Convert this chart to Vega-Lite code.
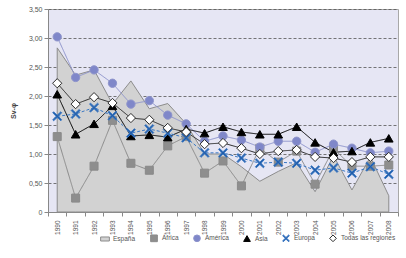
{
  "$schema": "https://vega.github.io/schema/vega-lite/v6.json",
  "width": 350,
  "height": 203,
  "autosize": {"type": "none"},
  "padding": {"left": 48, "top": 9, "right": 8, "bottom": 46},
  "background": "white",
  "config": {
    "font": "Liberation Sans",
    "view": {"fill": "#e6e6f4", "stroke": "#a8a8a8"},
    "axis": {"labelColor": "#555555", "labelFontSize": 7, "domainColor": "#888888", "tickColor": "#888888", "titleColor": "#444444"},
    "legend": {
      "orient": "none", "legendX": 53, "legendY": 225, "direction": "horizontal",
      "title": null, "labelFontSize": 6.5, "labelColor": "#555555", "symbolSize": 45,
      "columnPadding": 12, "symbolStrokeWidth": 1, "labelOffset": 4
    }
  },
  "data": {"values": [
    {"year": "1990", "España": 2.83, "África": 1.30, "América": 3.02, "Asia": 2.03, "Europa": 1.65, "Todas las regiones": 2.22},
    {"year": "1991", "España": 2.36, "África": 0.24, "América": 2.32, "Asia": 1.34, "Europa": 1.69, "Todas las regiones": 1.86},
    {"year": "1992", "España": 2.45, "África": 0.79, "América": 2.45, "Asia": 1.52, "Europa": 1.80, "Todas las regiones": 1.98},
    {"year": "1993", "España": 1.86, "África": 1.58, "América": 2.22, "Asia": 1.83, "Europa": 1.66, "Todas las regiones": 1.88},
    {"year": "1994", "España": 2.26, "África": 0.84, "América": 1.86, "Asia": 1.31, "Europa": 1.36, "Todas las regiones": 1.62},
    {"year": "1995", "España": 1.78, "África": 0.72, "América": 1.92, "Asia": 1.33, "Europa": 1.43, "Todas las regiones": 1.59},
    {"year": "1996", "España": 1.87, "África": 1.14, "América": 1.67, "Asia": 1.29, "Europa": 1.36, "Todas las regiones": 1.45},
    {"year": "1997", "España": 1.52, "África": 1.30, "América": 1.52, "Asia": 1.43, "Europa": 1.28, "Todas las regiones": 1.38},
    {"year": "1998", "España": 1.00, "África": 0.67, "América": 1.22, "Asia": 1.36, "Europa": 1.02, "Todas las regiones": 1.17},
    {"year": "1999", "España": 1.00, "África": 0.88, "América": 1.31, "Asia": 1.47, "Europa": 1.02, "Todas las regiones": 1.19},
    {"year": "2000", "España": 0.78, "África": 0.45, "América": 1.24, "Asia": 1.38, "Europa": 0.93, "Todas las regiones": 1.10},
    {"year": "2001", "España": 0.53, "África": 1.10, "América": 1.12, "Asia": 1.34, "Europa": 0.84, "Todas las regiones": 1.00},
    {"year": "2002", "España": 0.70, "África": 0.86, "América": 1.22, "Asia": 1.34, "Europa": 0.86, "Todas las regiones": 1.05},
    {"year": "2003", "España": 0.85, "África": 1.05, "América": 1.22, "Asia": 1.47, "Europa": 0.84, "Todas las regiones": 1.07},
    {"year": "2004", "España": 0.35, "África": 0.48, "América": 1.03, "Asia": 1.20, "Europa": 0.72, "Todas las regiones": 0.95},
    {"year": "2005", "España": 0.97, "África": 1.09, "América": 1.17, "Asia": 1.03, "Europa": 0.76, "Todas las regiones": 0.93},
    {"year": "2006", "España": 0.38, "África": 0.79, "América": 1.10, "Asia": 1.05, "Europa": 0.67, "Todas las regiones": 0.86},
    {"year": "2007", "España": 0.95, "África": 0.79, "América": 1.02, "Asia": 1.20, "Europa": 0.78, "Todas las regiones": 0.95},
    {"year": "2008", "España": 0.28, "África": 0.81, "América": 1.05, "Asia": 1.27, "Europa": 0.65, "Todas las regiones": 0.95}
  ]},
  "transform": [
    {"fold": ["España", "África", "América", "Asia", "Europa", "Todas las regiones"], "as": ["series", "value"]}
  ],
  "encoding": {
    "x": {
      "field": "year", "type": "ordinal", "bandPosition": 0.5,
      "scale": {"type": "band", "paddingInner": 0, "paddingOuter": 0},
      "axis": {"title": null, "labelAngle": -90, "tickBand": "extent", "labelPadding": 4, "tickSize": 4, "labelFontSize": 6.5, "grid": false}
    },
    "y": {
      "field": "value", "type": "quantitative",
      "scale": {"domain": [0, 3.5], "nice": false},
      "axis": {
        "title": "Sv-φ", "titleFontSize": 7, "titleFontWeight": "bold", "titlePadding": 12,
        "values": [0, 0.5, 1, 1.5, 2, 2.5, 3, 3.5],
        "labelExpr": "datum.value == 0 ? '0' : replace(format(datum.value, '.2f'), '.', ',')",
        "grid": true, "gridColor": "#555555", "gridDash": [3, 2], "gridWidth": 0.8, "tickSize": 4
      }
    }
  },
  "layer": [
    {
      "transform": [{"filter": "datum.series === 'España'"}],
      "mark": {"type": "area", "stroke": "#8c8c8c", "strokeWidth": 1},
      "encoding": {
        "fill": {"field": "series", "type": "nominal",
          "scale": {"domain": ["España", "África", "América", "Asia", "Europa", "Todas las regiones"],
                    "range": ["#d2d2d2", "#8e8e8e", "#7f87c9", "#000000", "#1f5aa6", "#ffffff"]}}
      }
    },
    {
      "transform": [{"filter": "datum.series !== 'España'"}],
      "mark": {"type": "line"},
      "encoding": {
        "detail": {"field": "series"},
        "stroke": {"field": "series", "type": "nominal",
          "scale": {"domain": ["España", "África", "América", "Asia", "Europa", "Todas las regiones"],
                    "range": ["#8c8c8c", "#8a8a8a", "#8e94cc", "#000000", "#3a78c4", "#2a2a2a"]}},
        "strokeWidth": {"field": "series", "type": "nominal", "legend": null,
          "scale": {"domain": ["África", "América", "Asia", "Europa", "Todas las regiones"], "range": [1, 1, 1.6, 1.2, 1.6]}},
        "strokeDash": {"field": "series", "type": "nominal", "legend": null,
          "scale": {"domain": ["África", "América", "Asia", "Europa", "Todas las regiones"], "range": [[1, 0], [1, 0], [1, 0], [3, 2], [1, 0]]}}
      }
    },
    {
      "transform": [{"filter": "datum.series !== 'España'"}],
      "mark": {"type": "point", "filled": true, "strokeWidth": 1, "opacity": 1},
      "encoding": {
        "fill": {"field": "series", "type": "nominal"},
        "stroke": {"field": "series", "type": "nominal"},
        "shape": {"field": "series", "type": "nominal",
          "scale": {"domain": ["España", "África", "América", "Asia", "Europa", "Todas las regiones"],
                    "range": ["M-1.3,-0.6H1.3V0.6H-1.3Z", "square", "circle", "triangle-up",
                              "M-0.8,-1L0,-0.25L0.8,-1L1,-0.8L0.25,0L1,0.8L0.8,1L0,0.25L-0.8,1L-1,0.8L-0.25,0L-1,-0.8Z", "diamond"]}},
        "size": {"field": "series", "type": "nominal", "legend": null,
          "scale": {"domain": ["África", "América", "Asia", "Europa", "Todas las regiones"], "range": [64, 85, 55, 55, 48]}}
      }
    }
  ]
}
